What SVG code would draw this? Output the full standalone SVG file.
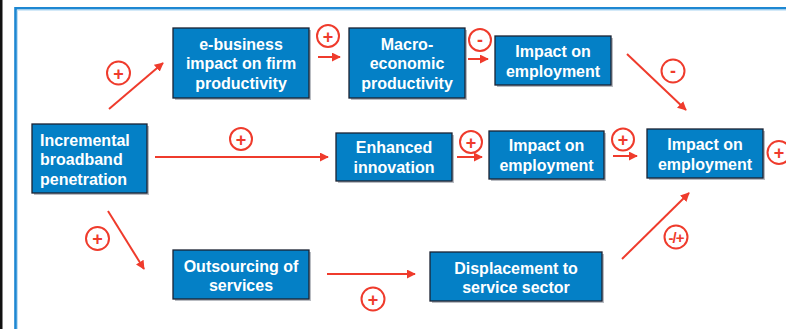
<svg xmlns="http://www.w3.org/2000/svg" width="786" height="329" viewBox="0 0 786 329">
<style>
.box{fill:#0480c6;stroke:#1b2233;stroke-width:1.3}
.shadow{fill:#b9bcc2}
.t{font-family:"Liberation Sans",Arial,sans-serif;font-weight:bold;font-size:16px;fill:#ffffff;text-anchor:middle}
.tl{text-anchor:start}
.c{fill:none;stroke:#ef3b2c;stroke-width:2}
.s{font-family:"Liberation Sans",Arial,sans-serif;font-weight:bold;font-size:18px;fill:#ef3b2c;text-anchor:middle}
.a{stroke:#ef3b2c;stroke-width:2;fill:none;marker-end:url(#ah)}
</style>
<defs>
<marker id="ah" viewBox="0 0 10 10" refX="9" refY="5" markerWidth="4.5" markerHeight="4.5" orient="auto" markerUnits="strokeWidth">
<path d="M0,0 L10,5 L0,10 z" fill="#ef3b2c"/>
</marker>
</defs>
<rect x="0" y="0" width="786" height="329" fill="#ffffff"/>
<rect x="0" y="0" width="2.5" height="329" fill="#111111"/>
<path d="M15.5,329 V8.2 H786" fill="none" stroke="#1d87d2" stroke-width="2.6"/>
<path d="M17.5,329 V10.2 H786" fill="none" stroke="#bfe0f5" stroke-width="1"/>

<g id="connectors">
<line class="a" x1="109" y1="109" x2="163" y2="63"/>
<line class="a" x1="318" y1="57" x2="340" y2="57"/>
<line class="a" x1="468" y1="59" x2="488" y2="59"/>
<line class="a" x1="627" y1="54" x2="686" y2="110"/>
<line class="a" x1="155" y1="157" x2="328" y2="157"/>
<line class="a" x1="457" y1="157" x2="482" y2="157"/>
<line class="a" x1="613" y1="156" x2="637" y2="156"/>
<line class="a" x1="108" y1="211" x2="144" y2="269"/>
<line class="a" x1="327" y1="274" x2="415" y2="274"/>
<line class="a" x1="622" y1="259" x2="689" y2="193"/>
<g id="signs">
<circle class="c" cx="118.5" cy="73" r="11.5"/><text class="s" x="118.5" y="79.5">+</text>
<circle class="c" cx="328" cy="36" r="11"/><text class="s" x="328" y="42.5">+</text>
<circle class="c" cx="480" cy="40" r="11"/><text class="s" x="480" y="45.5">-</text>
<circle class="c" cx="673" cy="71" r="11.5"/><text class="s" x="673" y="76.5">-</text>
<circle class="c" cx="241" cy="139" r="11"/><text class="s" x="241" y="145.5">+</text>
<circle class="c" cx="471" cy="142" r="11"/><text class="s" x="471" y="148.5">+</text>
<circle class="c" cx="623" cy="139.5" r="11"/><text class="s" x="623" y="146">+</text>
<circle class="c" cx="779" cy="152.5" r="11.5"/><text class="s" x="779" y="159">+</text>
<circle class="c" cx="97.5" cy="238.5" r="11.5"/><text class="s" x="97.5" y="245">+</text>
<circle class="c" cx="373" cy="299" r="11.5"/><text class="s" x="373" y="305.5">+</text>
<circle class="c" cx="676" cy="237" r="11.5"/><text class="s" x="676" y="242.5" style="font-size:15px;letter-spacing:-1px">-/+</text>
</g>
</g>

<g id="n-broadband">
<rect class="shadow" x="34" y="126" width="115" height="69"/>
<rect class="box" x="32" y="124" width="115" height="69"/>
<text class="t tl" x="40" y="145.5">Incremental</text>
<text class="t tl" x="40" y="165">broadband</text>
<text class="t tl" x="40" y="184.5">penetration</text>
</g>
<g id="n-ebusiness">
<rect class="shadow" x="175" y="30" width="136" height="70"/>
<rect class="box" x="173" y="28" width="136" height="70"/>
<text class="t" x="241" y="49.5">e-business</text>
<text class="t" x="241" y="69">impact on firm</text>
<text class="t" x="241" y="88.5">productivity</text>
</g>
<g id="n-macro">
<rect class="shadow" x="351" y="30" width="116" height="70"/>
<rect class="box" x="349" y="28" width="116" height="70"/>
<text class="t" x="407" y="49.5">Macro-</text>
<text class="t" x="407" y="69">economic</text>
<text class="t" x="407" y="88.5">productivity</text>
</g>
<g id="n-impact-top">
<rect class="shadow" x="497" y="38" width="116" height="49"/>
<rect class="box" x="495" y="36" width="116" height="49"/>
<text class="t" x="553" y="56.5">Impact on</text>
<text class="t" x="553" y="76.5">employment</text>
</g>
<g id="n-innovation">
<rect class="shadow" x="338" y="135" width="116" height="48"/>
<rect class="box" x="336" y="133" width="116" height="48"/>
<text class="t" x="394" y="153">Enhanced</text>
<text class="t" x="394" y="173">innovation</text>
</g>
<g id="n-impact-mid">
<rect class="shadow" x="491" y="133" width="115" height="48"/>
<rect class="box" x="489" y="131" width="115" height="48"/>
<text class="t" x="546.5" y="151">Impact on</text>
<text class="t" x="546.5" y="171">employment</text>
</g>
<g id="n-impact-right">
<rect class="shadow" x="649" y="131" width="116" height="49"/>
<rect class="box" x="647" y="129" width="116" height="49"/>
<text class="t" x="705" y="149.5">Impact on</text>
<text class="t" x="705" y="169.5">employment</text>
</g>
<g id="n-outsourcing">
<rect class="shadow" x="175" y="252" width="136" height="49"/>
<rect class="box" x="173" y="250" width="136" height="49"/>
<text class="t" x="241" y="271.5">Outsourcing of</text>
<text class="t" x="241" y="291">services</text>
</g>
<g id="n-displacement">
<rect class="shadow" x="432" y="254" width="172" height="49"/>
<rect class="box" x="430" y="252" width="172" height="49"/>
<text class="t" x="516" y="273.5">Displacement to</text>
<text class="t" x="516" y="293">service sector</text>
</g>
</svg>
